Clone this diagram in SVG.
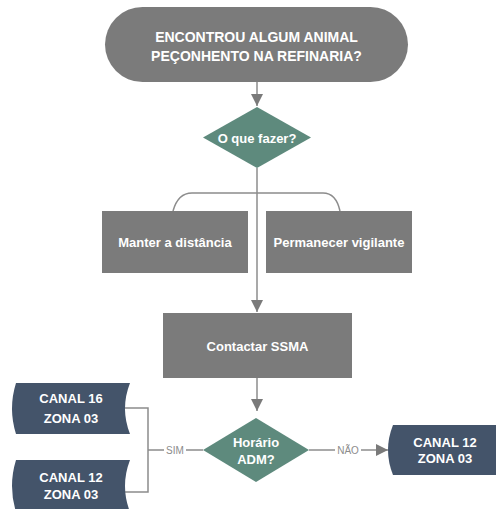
<svg xmlns="http://www.w3.org/2000/svg" width="496" height="509" viewBox="0 0 496 509">
<defs>
<style>
.gray{fill:#7b7b7b}
.teal{fill:#5e8a7d}
.dark{fill:#44546a}
.t{font-family:"Liberation Sans",Arial,sans-serif;font-weight:bold;fill:#ffffff;text-anchor:middle}
.conn{fill:none;stroke:#8c8c8c;stroke-width:1.5}
.lbl{font-family:"Liberation Sans",Arial,sans-serif;font-size:10px;fill:#8c8c8c;text-anchor:middle}
</style>
<marker id="arrB" viewBox="0 0 12 12" refX="12" refY="6" markerWidth="12" markerHeight="12" markerUnits="userSpaceOnUse" orient="auto">
<path d="M0,0 L12,6 L0,12 Z" fill="#7a7a7a"/>
</marker>
</defs>
<rect width="496" height="509" fill="#ffffff"/>
<g id="connectors">
<path class="conn" d="M257,82 L257,106" marker-end="url(#arrB)"/>
<path class="conn" d="M257,168 L257,312" marker-end="url(#arrB)"/>
<path class="conn" d="M173,211 Q178,193 192,193 L323,193 Q336,193 340,211"/>
<path class="conn" d="M257,378 L257,411" marker-end="url(#arrB)"/>
<path class="conn" d="M203,450 L148,450 M125,408 L148,408 L148,492 L125,492"/>
<path class="conn" d="M309,450 L388,450" marker-end="url(#arrB)"/>
<rect x="164" y="444" width="22" height="12" fill="#ffffff"/>
<text class="lbl" x="175" y="453.5">SIM</text>
<rect x="335" y="444" width="26" height="12" fill="#ffffff"/>
<text class="lbl" x="348" y="453.5">NÃO</text>
</g>
<g id="inicio">
<rect class="gray" x="105" y="7" width="303" height="75" rx="37.5"/>
<text class="t" font-size="14" x="256.5" y="42">ENCONTROU ALGUM ANIMAL</text>
<text class="t" font-size="14" x="256.5" y="60.5">PEÇONHENTO NA REFINARIA?</text>
</g>
<g id="decisao1">
<polygon class="teal" points="257,107 311,137.5 257,168 203,137.5"/>
<text class="t" font-size="13" x="257" y="142.5">O que fazer?</text>
</g>
<g id="manter">
<rect class="gray" x="102" y="211" width="146" height="62"/>
<text class="t" font-size="13" x="175" y="247">Manter a distância</text>
</g>
<g id="permanecer">
<rect class="gray" x="266" y="211" width="146" height="62"/>
<text class="t" font-size="13" x="339" y="247">Permanecer vigilante</text>
</g>
<g id="contactar">
<rect class="gray" x="163" y="313" width="189" height="65"/>
<text class="t" font-size="13" x="257.5" y="350.5">Contactar SSMA</text>
</g>
<g id="decisao2">
<polygon class="teal" points="256,418 309,450 256,482 203,450"/>
<text class="t" font-size="13" x="256" y="446.5">Horário</text>
<text class="t" font-size="13" x="256" y="463.5">ADM?</text>
</g>
<g id="canal16">
<path class="dark" d="M16,383 L130,383 Q120,408.5 130,434 L16,434 Q8,408.5 16,383 Z"/>
<text class="t" font-size="13" x="71" y="403">CANAL 16</text>
<text class="t" font-size="13" x="71" y="422.5">ZONA 03</text>
</g>
<g id="canal12a">
<path class="dark" d="M16,460 L130,460 Q120,486 130,512 L16,512 Q8,486 16,460 Z"/>
<text class="t" font-size="13" x="71" y="482">CANAL 12</text>
<text class="t" font-size="13" x="71" y="499">ZONA 03</text>
</g>
<g id="canal12b">
<path class="dark" d="M393,425 L497,425 L497,475 L393,475 Q383,450 393,425 Z"/>
<text class="t" font-size="13" x="445" y="447">CANAL 12</text>
<text class="t" font-size="13" x="445" y="463">ZONA 03</text>
</g>
</svg>
